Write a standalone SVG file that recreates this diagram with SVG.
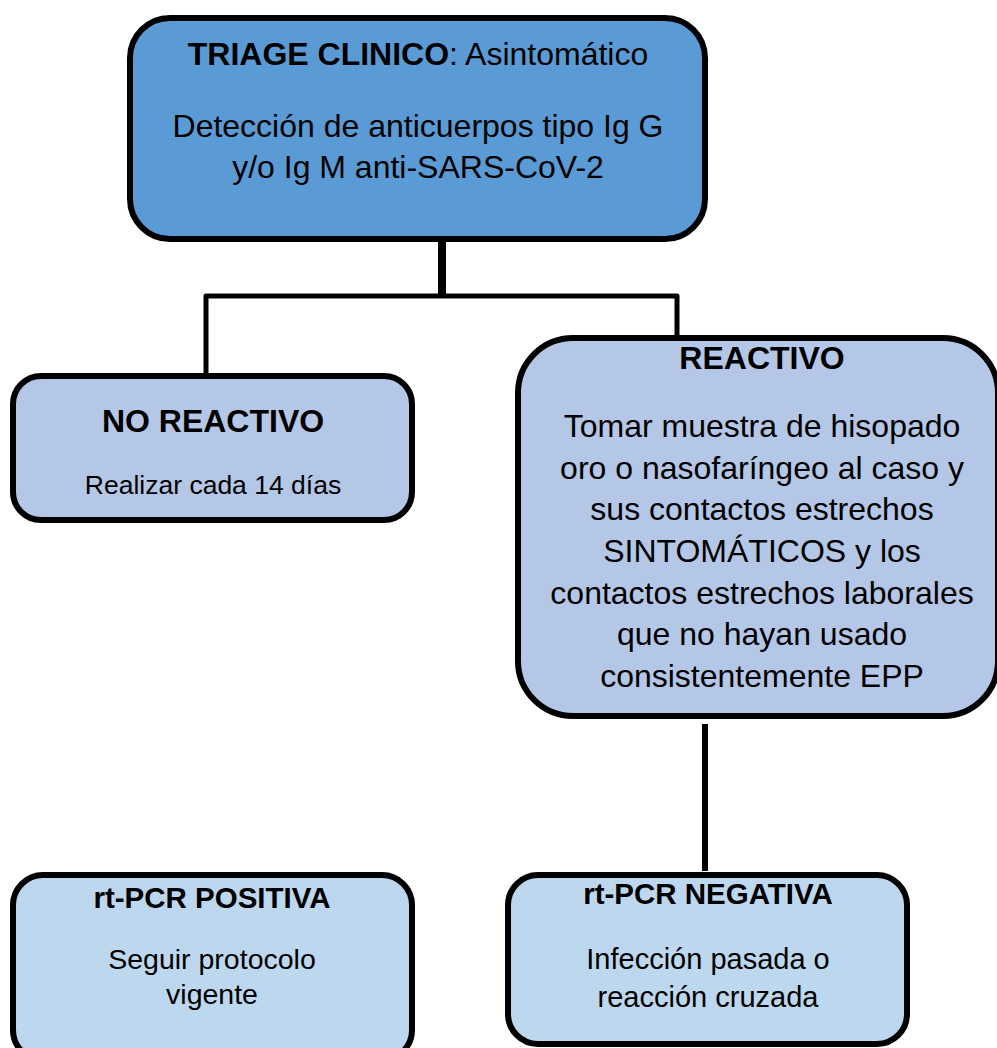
<svg xmlns="http://www.w3.org/2000/svg" width="997" height="1048" viewBox="0 0 997 1048">
<style>
.box{stroke:#000;stroke-width:6}
.t{font-family:"Liberation Sans",Arial,sans-serif;fill:#000;text-anchor:middle}
.b{font-weight:bold}
.con{stroke:#000;fill:none;stroke-linecap:butt}
</style>
<rect width="997" height="1048" fill="#fff"/>
<g id="connectors">
<line class="con" x1="442" y1="242" x2="442" y2="298" stroke-width="8"/>
<polyline class="con" points="206,375 206,296 677,296 677,338" stroke-width="5" stroke-linejoin="round"/>
<line class="con" x1="705" y1="724" x2="705" y2="871" stroke-width="6"/>
</g>
<g id="triage">
<rect class="box" x="130" y="18" width="575" height="221" rx="40" fill="#5B9BD5"/>
<text class="t" x="418" y="65" font-size="32"><tspan class="b">TRIAGE CLINICO</tspan>: Asintomático</text>
<text class="t" x="418" y="137" font-size="32">Detección de anticuerpos tipo Ig G</text>
<text class="t" x="418" y="178" font-size="32">y/o Ig M anti-SARS-CoV-2</text>
</g>
<g id="no-reactivo">
<rect class="box" x="13" y="376" width="399" height="144" rx="28" fill="#B4C7E7"/>
<text class="t b" x="213" y="432" font-size="32">NO REACTIVO</text>
<text class="t" x="213" y="494" font-size="26.5">Realizar cada 14 días</text>
</g>
<g id="reactivo">
<rect class="box" x="518" y="338" width="480" height="378" rx="55" fill="#B4C7E7"/>
<text class="t b" x="762" y="369" font-size="32">REACTIVO</text>
<text class="t" x="762" y="437" font-size="32">Tomar muestra de hisopado</text>
<text class="t" x="762" y="479" font-size="32">oro o nasofaríngeo al caso y</text>
<text class="t" x="762" y="520" font-size="32">sus contactos estrechos</text>
<text class="t" x="762" y="562" font-size="32">SINTOMÁTICOS y los</text>
<text class="t" x="762" y="604" font-size="32">contactos estrechos laborales</text>
<text class="t" x="762" y="645" font-size="32">que no hayan usado</text>
<text class="t" x="762" y="687" font-size="32">consistentemente EPP</text>
</g>
<g id="pcr-positiva">
<rect class="box" x="13" y="875" width="399" height="185" rx="30" fill="#BDD7EE"/>
<text class="t b" x="212" y="908" font-size="29.5">rt-PCR POSITIVA</text>
<text class="t" x="212" y="969" font-size="28.5">Seguir protocolo</text>
<text class="t" x="212" y="1004" font-size="28.5">vigente</text>
</g>
<g id="pcr-negativa">
<rect class="box" x="508" y="875" width="399" height="169" rx="30" fill="#BDD7EE"/>
<text class="t b" x="708" y="904" font-size="29.5">rt-PCR NEGATIVA</text>
<text class="t" x="708" y="969" font-size="29">Infección pasada o</text>
<text class="t" x="708" y="1007" font-size="29">reacción cruzada</text>
</g>
</svg>
